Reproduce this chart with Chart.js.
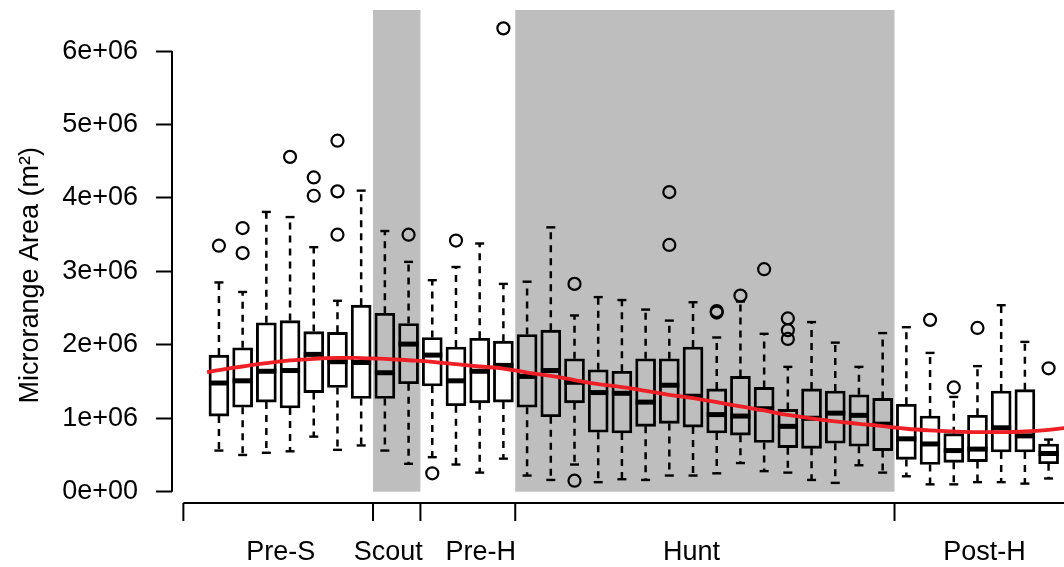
<!DOCTYPE html>
<html>
<head>
<meta charset="utf-8">
<script src="https://cdn.jsdelivr.net/npm/chart.js@4.4.1/dist/chart.umd.min.js"></script>
<style>
  body { margin: 0; background: #fff; }
  #wrap { width: 1064px; height: 567px; }
</style>
</head>
<body>
<div id="wrap"><canvas id="grafico" width="1064" height="567"></canvas></div>
<script>
// values in millions of m2
var M = 1e6;

var boxLow  = [0.56, 0.50, 0.53, 0.55, 0.75, 0.57, 0.63, 0.56, 0.38, 0.47, 0.37, 0.26,
               0.45, 0.22, 0.16, 0.37, 0.13, 0.17, 0.16, 0.22, 0.22, 0.25, 0.39, 0.28,
               0.26, 0.16, 0.12, 0.36, 0.26, 0.21, 0.10, 0.10, 0.13, 0.13, 0.11, 0.18];
var boxQ1   = [1.03, 1.15, 1.22, 1.14, 1.35, 1.42, 1.27, 1.27, 1.47, 1.44, 1.17, 1.21,
               1.22, 1.15, 1.02, 1.21, 0.81, 0.80, 0.89, 0.93, 0.88, 0.80, 0.77, 0.67,
               0.60, 0.59, 0.66, 0.62, 0.56, 0.44, 0.37, 0.40, 0.41, 0.54, 0.54, 0.38];
var boxMed  = [1.48, 1.51, 1.64, 1.65, 1.87, 1.77, 1.76, 1.62, 2.01, 1.86, 1.51, 1.64,
               1.72, 1.57, 1.65, 1.49, 1.35, 1.34, 1.22, 1.45, 1.30, 1.05, 1.03, 1.13,
               0.89, 1.00, 1.07, 1.04, 0.92, 0.72, 0.65, 0.56, 0.58, 0.87, 0.76, 0.52];
var boxQ3   = [1.86, 1.96, 2.30, 2.33, 2.18, 2.17, 2.54, 2.43, 2.29, 2.10, 1.97, 2.09,
               2.05, 2.14, 2.20, 1.81, 1.66, 1.64, 1.81, 1.81, 1.97, 1.40, 1.57, 1.42,
               1.12, 1.40, 1.37, 1.32, 1.27, 1.19, 1.03, 0.79, 1.04, 1.37, 1.39, 0.65];
var boxHigh = [2.85, 2.72, 3.81, 3.74, 3.33, 2.60, 4.10, 3.55, 3.13, 2.88, 3.06, 3.38,
               2.83, 2.86, 3.60, 2.40, 2.65, 2.61, 2.48, 2.33, 2.58, 2.10, 2.59, 2.15,
               1.70, 2.31, 2.03, 1.70, 2.16, 2.24, 1.89, 1.29, 1.71, 2.54, 2.04, 0.71];

var outlierX = [1, 2, 2, 4, 5, 5, 6, 6, 6, 9, 10, 11, 13, 16, 16, 20, 20, 22, 22, 23, 24, 25, 25, 25, 31, 32, 33, 36];
var outlierY = [3.35, 3.59, 3.25, 4.56, 4.28, 4.03, 4.78, 4.09, 3.50, 3.50, 0.25, 3.42, 6.31, 2.83, 0.15,
                4.08, 3.36, 2.46, 2.44, 2.67, 3.03, 2.36, 2.20, 2.08, 2.34, 1.42, 2.23, 1.68];

// red trend curve, read at each box position
var curveX = [0.5, 1, 2, 3, 4, 5, 6, 7, 8, 9, 10, 11, 12, 13, 14, 15, 16, 17, 18, 19,
              20, 21, 22, 23, 24, 25, 26, 27, 28, 29, 30, 31, 32, 33, 34, 35, 36, 37];
var curveY = [1.63, 1.657, 1.705, 1.75, 1.787, 1.81, 1.823, 1.82, 1.81, 1.79, 1.768, 1.737,
              1.705, 1.677, 1.623, 1.578, 1.519, 1.465, 1.424, 1.374, 1.32, 1.274, 1.22, 1.161,
              1.107, 1.045, 0.998, 0.957, 0.925, 0.894, 0.857, 0.834, 0.82, 0.811, 0.811, 0.82,
              0.843, 0.88];

var phaseNames   = ["Pre-S", "Scout", "Pre-H", "Hunt", "Post-H"];
var phaseBreaks  = [-0.5, 7.5, 9.5, 13.5, 29.5, 37.5];
var phaseLabelAt = [3.61, 8.14, 12.04, 20.94, 33.3];
var shadedPhases = [1, 3];

var yTickValues = [0, 1, 2, 3, 4, 5, 6];
var yTickLabels = ["0e+00", "1e+06", "2e+06", "3e+06", "4e+06", "5e+06", "6e+06"];

var FUENTE = "'Liberation Sans', Arial, Helvetica, sans-serif";

// datos para el grafico
var cajas = boxQ1.map(function (q1, i) { return { x: i + 1, y: [q1 * M, boxQ3[i] * M] }; });
var medianas = boxMed.map(function (v, i) { return { x: i + 1, y: v * M }; });
var topes = [];
var bigotes = [];
boxLow.forEach(function (lo, i) {
    topes.push({ x: i + 1, y: boxHigh[i] * M });
    topes.push({ x: i + 1, y: lo * M });
    bigotes.push({ x: i + 1, y: boxQ3[i] * M }, { x: i + 1, y: boxHigh[i] * M }, { x: i + 1, y: null });
    bigotes.push({ x: i + 1, y: boxQ1[i] * M }, { x: i + 1, y: lo * M }, { x: i + 1, y: null });
});
var atipicos = outlierX.map(function (x, i) { return { x: x, y: outlierY[i] * M }; });
var curva = curveX.map(function (x, i) { return { x: x, y: curveY[i] * M }; });

// shaded phases and R style axis lines
var fasesPlugin = {
    id: "fases",
    beforeDatasetsDraw: function (chart) {
        var ctx = chart.ctx, area = chart.chartArea, sx = chart.scales.x, sy = chart.scales.y;
        ctx.save();
        ctx.fillStyle = "#bebebe";
        shadedPhases.forEach(function (p) {
            var x0 = sx.getPixelForValue(phaseBreaks[p]);
            var x1 = sx.getPixelForValue(phaseBreaks[p + 1]);
            var yb = sy.getPixelForValue(0);
            ctx.fillRect(x0, area.top, x1 - x0, yb - area.top);
        });
        ctx.restore();
    },
    afterDraw: function (chart) {
        var ctx = chart.ctx, area = chart.chartArea, sx = chart.scales.x, sy = chart.scales.y;
        ctx.save();
        ctx.strokeStyle = "#000";
        ctx.lineWidth = 2;
        ctx.beginPath();
        ctx.moveTo(area.left, sy.getPixelForValue(yTickValues[0] * M));
        ctx.lineTo(area.left, sy.getPixelForValue(yTickValues[yTickValues.length - 1] * M));
        ctx.moveTo(sx.getPixelForValue(phaseBreaks[0]), area.bottom);
        ctx.lineTo(chart.width, area.bottom);
        // marcas entre fases
        phaseBreaks.forEach(function (v) {
            var px = sx.getPixelForValue(v);
            if (px <= chart.width) {
                ctx.moveTo(px, area.bottom);
                ctx.lineTo(px, area.bottom + 18);
            }
        });
        ctx.stroke();
        ctx.restore();
    }
};

var ctx = document.getElementById("grafico").getContext("2d");
var myChart = new Chart(ctx, {
    type: "bar",
    data: {
        datasets: [
            {
                type: "line",
                data: curva,
                borderColor: "#ee1f25",
                borderWidth: 3.8,
                pointRadius: 0,
                tension: 0.4,
                order: 0
            },
            {
                type: "scatter",
                data: medianas,
                pointStyle: "line",
                pointRadius: 10,
                borderWidth: 5,
                borderColor: "#000",
                order: 1
            },
            {
                type: "scatter",
                data: atipicos,
                pointStyle: "circle",
                pointRadius: 6,
                borderWidth: 2.2,
                borderColor: "#000",
                backgroundColor: "rgba(0,0,0,0)",
                order: 2
            },
            {
                type: "scatter",
                data: topes,
                pointStyle: "line",
                pointRadius: 4.5,
                borderWidth: 2.4,
                borderColor: "#000",
                order: 3
            },
            {
                type: "line",
                data: bigotes,
                borderColor: "#000",
                borderWidth: 2.5,
                borderDash: [7, 6],
                pointRadius: 0,
                spanGaps: false,
                tension: 0,
                order: 4
            },
            {
                type: "bar",
                data: cajas,
                backgroundColor: "rgba(0,0,0,0)",
                borderColor: "#000",
                borderWidth: 2.2,
                borderSkipped: false,
                barThickness: 20,
                order: 5
            }
        ]
    },
    options: {
        responsive: false,
        animation: false,
        events: [],
        layout: { padding: { top: 10, left: 0, right: 0, bottom: 0 }, autoPadding: false },
        plugins: { legend: { display: false }, tooltip: { enabled: false } },
        scales: {
            x: {
                type: "linear",
                min: -0.98,
                max: 36.65,
                offset: false,
                border: { display: false },
                grid: { display: false, drawTicks: false },
                afterBuildTicks: function (scale) {
                    scale.ticks = phaseLabelAt.map(function (v) { return { value: v }; });
                },
                afterFit: function (scale) {
                    scale.height = 64;
                    scale.paddingLeft = 0;
                    scale.paddingRight = 0;
                },
                ticks: {
                    autoSkip: false,
                    maxRotation: 0,
                    minRotation: 0,
                    padding: 33,
                    color: "#000",
                    font: { family: FUENTE, size: 27 },
                    callback: function (value, index) { return phaseNames[index]; }
                }
            },
            y: {
                type: "linear",
                min: -0.154 * M,
                max: 6.56 * M,
                border: { display: false },
                grid: { drawOnChartArea: false, tickLength: 16, tickWidth: 2, tickColor: "#000" },
                afterBuildTicks: function (scale) {
                    scale.ticks = yTickValues.map(function (v) { return { value: v * M }; });
                },
                afterFit: function (scale) {
                    scale.width = 172;
                    scale.paddingTop = 0;
                    scale.paddingBottom = 0;
                },
                ticks: {
                    padding: 18,
                    color: "#000",
                    font: { family: FUENTE, size: 27 },
                    callback: function (value, index) { return yTickLabels[index]; }
                },
                title: {
                    display: true,
                    text: "Microrange Area (m²)     ",
                    color: "#000",
                    font: { family: FUENTE, size: 27 },
                    padding: { top: 14, bottom: 0 }
                }
            }
        }
    },
    plugins: [fasesPlugin]
});
</script>
</body>
</html>
